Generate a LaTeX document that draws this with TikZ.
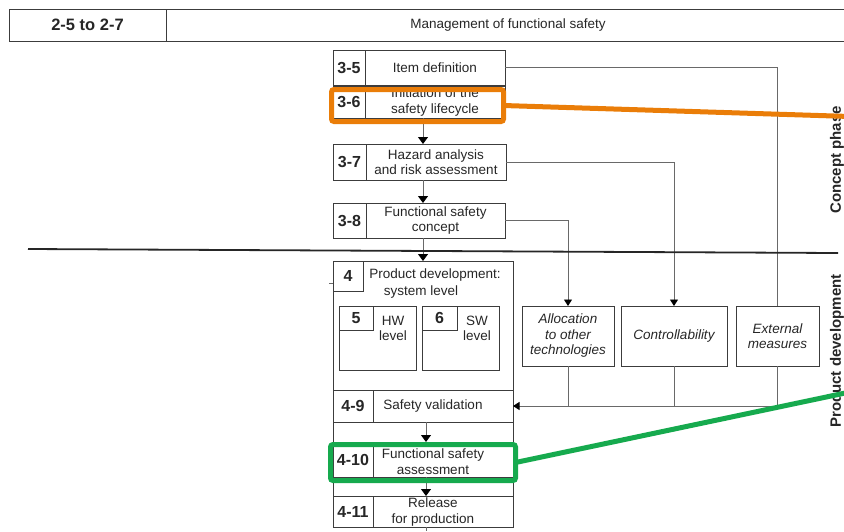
\documentclass[tikz,border=0pt]{standalone}
\usepackage{fontspec}
\setmainfont{Liberation Sans}
\usepackage{tikz}
\usetikzlibrary{positioning,arrows.meta}
\definecolor{hlorange}{RGB}{234,125,8}
\definecolor{hlgreen}{RGB}{22,170,78}
\definecolor{boxline}{RGB}{60,60,60}
\definecolor{wiregray}{RGB}{105,105,105}
\def\txfont{\fontsize{13.5}{15.5}\selectfont}
\def\nrfont{\fontsize{16}{18}\selectfont\bfseries}
\def\phfont{\fontsize{15}{17}\selectfont\bfseries}

\begin{document}
\begin{tikzpicture}[x=1pt, y=-1pt, >={Triangle[width=8pt,length=6.5pt,color=black]},
  cell/.style={draw=boxline, line width=0.9pt, inner sep=0pt, outer sep=0pt, text=black!85},
  nr/.style={cell, font=\nrfont},
  txt/.style={cell, font=\txfont, align=center},
  sidebox/.style={cell, font=\txfont\itshape, align=center},
  lbl/.style={inner sep=0pt, font=\txfont, align=center, text=black!85},
  wire/.style={draw=wiregray, line width=0.9pt},
  flow/.style={wire, -{Triangle[width=10pt,length=7pt,color=black]}},
  highlight/.style={draw=#1, line width=5pt, rounded corners=2.5pt, inner sep=0pt, outer sep=0pt}]
\useasboundingbox (0,0) rectangle (844,531);
\node[cell, minimum width=157pt, minimum height=32pt, font=\fontsize{16.5}{18}\selectfont\bfseries] (hdnr) at (87.5,25) {2-5 to 2-7};
\node[cell, minimum width=684pt, minimum height=32pt, right=0pt of hdnr, font=\txfont] (hdtitle) {Management of functional safety};
\node[nr, minimum width=32pt, minimum height=35pt] (n35) at (349,67.5) {3-5};
\node[txt, minimum width=140pt, minimum height=35pt, right=0pt of n35] (t35) {Item definition};
\node[nr, minimum width=32pt, minimum height=32pt] (n36) at (349,102) {3-6};
\node[txt, minimum width=140pt, minimum height=32pt, right=0pt of n36] (t36) {Initiation of the\\safety lifecycle};
\node[nr, minimum width=33pt, minimum height=36pt] (n37) at (349.5,162) {3-7};
\node[txt, minimum width=140pt, minimum height=36pt, right=0pt of n37] (t37) {Hazard analysis\\and risk assessment};
\node[nr, minimum width=33pt, minimum height=35pt] (n38) at (349.5,220.5) {3-8};
\node[txt, minimum width=139pt, minimum height=35pt, right=0pt of n38] (t38) {Functional safety\\concept};
\node[cell, minimum width=180pt, minimum height=266pt] (b4) at (423,394) {};
\node[nr, minimum width=30pt, minimum height=30pt, anchor=north west] (n4) at (b4.north west) {4};
\node[lbl] (t4a) at (435,275) {Product development:};
\node[lbl] (t4b) at (421,292) {system level};
\node[cell, minimum width=77pt, minimum height=64pt] (b5) at (377.5,338) {};
\node[nr, minimum width=34pt, minimum height=24pt, anchor=north west] (n5) at (b5.north west) {5};
\node[lbl] (t5) at (393,328.5) {HW\\level};
\node[cell, minimum width=77pt, minimum height=64pt] (b6) at (460.5,338) {};
\node[nr, minimum width=35pt, minimum height=24pt, anchor=north west] (n6) at (b6.north west) {6};
\node[lbl] (t6) at (477,328.5) {SW\\level};
\node[nr, minimum width=40pt, minimum height=32pt] (n49) at (353,406) {4-9};
\node[cell, minimum width=140pt, minimum height=32pt, right=0pt of n49] (t49) {};
\node[lbl] (l49) at (433,406) {Safety validation};
\node[nr, minimum width=40pt, minimum height=35pt] (n410) at (353,459.5) {4-10};
\node[cell, minimum width=140pt, minimum height=35pt, right=0pt of n410] (t410) {};
\node[lbl] (l410) at (433,461.5) {Functional safety\\assessment};
\node[nr, minimum width=40pt, minimum height=31pt] (n411) at (353,511.5) {4-11};
\node[cell, minimum width=140pt, minimum height=31pt, right=0pt of n411] (t411) {};
\node[lbl] (l411) at (433,512) {Release\\for production};
\node[sidebox, minimum width=92pt, minimum height=60pt] (alloc) at (568,336) {Allocation\\to other\\technologies};
\node[sidebox, minimum width=106pt, minimum height=60pt] (ctrl) at (674,336) {Controllability};
\node[sidebox, minimum width=83pt, minimum height=60pt] (extm) at (777.5,336) {External\\measures};
\coordinate (axis) at (423,0);
\coordinate (axisb) at (426,0);
\coordinate (tail) at (426,531);
\draw[flow] (t36.south -| axis) -- (t37.north -| axis);
\draw[flow] (t37.south -| axis) -- (t38.north -| axis);
\draw[flow] (t38.south -| axis) -- (b4.north);
\draw[flow] (t49.south -| axisb) -- (t410.north -| axisb);
\draw[flow] (t410.south -| axisb) -- (t411.north -| axisb);
\draw[wire] (t411.south -| axisb) -- (tail);
\draw[wire] (t35.east) -| (extm.north);
\draw[wire, ->] (t37.east) -| (ctrl.north);
\draw[wire, ->] (t38.east) -| (alloc.north);
\draw[wire, ->] (extm.south) |- (t49.east);
\draw[wire] (alloc.south) -- (alloc.south |- t49.east);
\draw[wire] (ctrl.south) -- (ctrl.south |- t49.east);
\draw[wire] ([yshift=-22pt]b4.north west) -- ++(-4,0);
\draw[line width=1.8pt, black!85] (28,249) -- (838,253);
\node[rotate=90, font=\phfont, inner sep=0pt, text=black!85] (concept) at (837,160) {Concept phase};
\node[rotate=90, font=\phfont, inner sep=0pt, text=black!85] (proddev) at (837,351) {Product development};
\node[highlight=hlorange, minimum width=172pt, minimum height=32pt] (hl36) at (417.5,105.5) {};
\node[highlight=hlgreen, minimum width=185pt, minimum height=36pt] (hl410) at (423,462.5) {};
\coordinate (cpend) at (850,116.5);
\coordinate (pdend) at (850,392);
\draw[hlorange, line width=5pt] (hl36.east) -- (cpend);
\draw[hlgreen, line width=5pt] (hl410.east) -- (pdend);
\end{tikzpicture}
\end{document}
